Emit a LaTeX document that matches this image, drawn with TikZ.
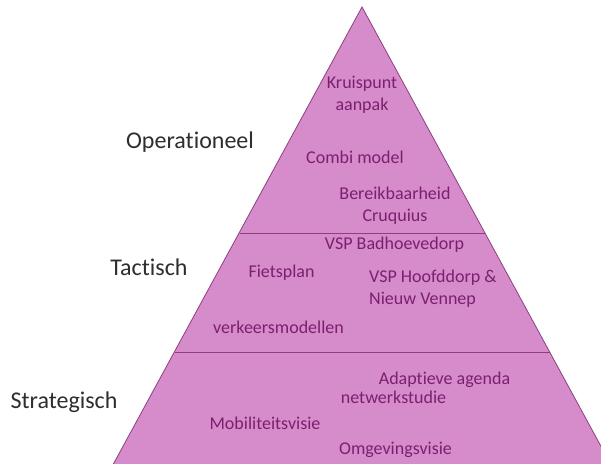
\documentclass[tikz,border=0pt]{standalone}
\usepackage{fontspec}
\setmainfont[Ligatures={NoCommon}]{Carlito}
\definecolor{pyrfill}{HTML}{D68BCA}
\definecolor{pyrline}{HTML}{8E3F82}
\definecolor{itemtext}{HTML}{7A2070}
\definecolor{leveltext}{HTML}{2E2E2E}
\tikzset{
  item/.style={text=itemtext, font=\fontsize{18}{22}\selectfont, inner sep=0pt},
  itemml/.style={item, align=center},
  itemleft/.style={item, align=left},
  level/.style={text=leveltext, font=\fontsize{24}{28}\selectfont, inner sep=0pt},
}
\begin{document}
\begin{tikzpicture}[x=1pt,y=1pt]
\useasboundingbox (0,0) rectangle (601,463);
\fill[white] (0,0) rectangle (601,463);
\begin{scope}
\clip (0,0) rectangle (601,463);
\coordinate (apex) at (362,456);
\coordinate (bl) at (108.5,-10);
\coordinate (br) at (615.5,-10);
\fill[pyrfill, draw=pyrline, line width=0.8pt] (bl) -- (apex) -- (br) -- cycle;
\draw[pyrline, line width=0.8pt] (239.5,230) -- (484.5,230);
\draw[pyrline, line width=0.8pt] (174.5,111) -- (549.5,111);
\end{scope}

\node[level] (op) at (190,321) {Operationeel};
\node[level] (ta) at (149,196) {Tactisch};
\node[level] (st) at (64,61) {Strategisch};

\node[itemml] (kr) at (362,368) {Kruispunt\\aanpak};
\node[item] (cm) at (355,306) {Combi model};
\node[itemml] (bc) at (395,257) {Bereikbaarheid\\Cruquius};

\node[item] (vb) at (394.5,218) {VSP Badhoevedorp};
\node[item] (fp) at (281.5,190) {Fietsplan};
\node[itemleft, anchor=west] (vh) at (369,174) {VSP Hoofddorp \&\\Nieuw Vennep};
\node[item] (vm) at (278.5,136) {verkeersmodellen};

\node[item] (aa) at (444.5,83) {Adaptieve agenda};
\node[item] (nw) at (393.5,66) {netwerkstudie};
\node[item] (mv) at (265,40) {Mobiliteitsvisie};
\node[item] (ov) at (395.5,13) {Omgevingsvisie};
\end{tikzpicture}
\end{document}
